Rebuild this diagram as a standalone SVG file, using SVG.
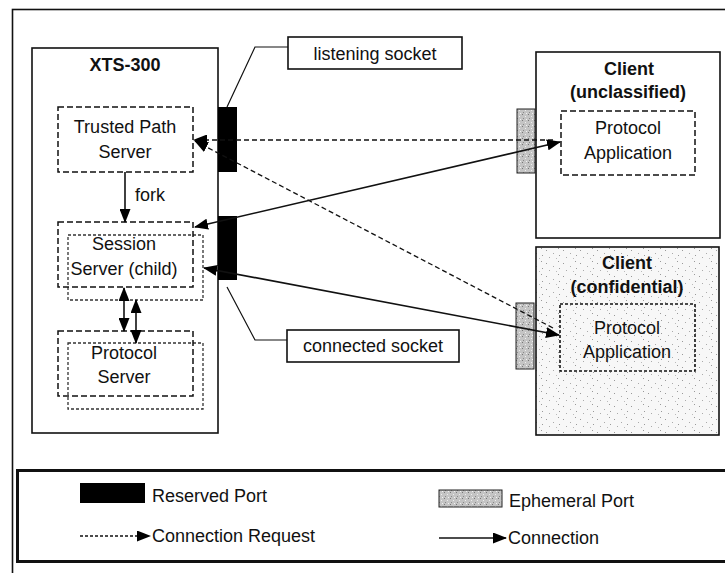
<svg xmlns="http://www.w3.org/2000/svg" width="725" height="573" viewBox="0 0 725 573">
<defs>
<style>
text{font-family:"Liberation Sans",Arial,sans-serif;font-size:18px;fill:#111}
.b{font-weight:bold}
.m{text-anchor:middle}
.box{fill:none;stroke:#111;stroke-width:1.6}
.front{fill:none;stroke:#111;stroke-width:1.5;stroke-dasharray:6 3}
.back{fill:none;stroke:#333;stroke-width:1.3;stroke-dasharray:3 2}
.dash{fill:none;stroke:#111;stroke-width:1.3;stroke-dasharray:5 3}
.solid{fill:none;stroke:#111;stroke-width:1.6}
.res{fill:#000}
.eph{fill:url(#ephPat);stroke:#222;stroke-width:1}
</style>
<marker id="ah" viewBox="0 0 14 11" refX="13" refY="5.5" markerWidth="14" markerHeight="11" markerUnits="userSpaceOnUse" orient="auto-start-reverse">
<path d="M0,0 L14,5.5 L0,11 Z" fill="#000"/>
</marker>
<pattern id="ephPat" width="6" height="6" patternUnits="userSpaceOnUse">
<rect width="6" height="6" fill="#c4c4c4"/>
<rect x="0" y="0" width="1" height="1" fill="#777"/>
<rect x="3" y="2" width="1" height="1" fill="#eee"/>
<rect x="1" y="4" width="1" height="1" fill="#888"/>
<rect x="4" y="5" width="1" height="1" fill="#f2f2f2"/>
</pattern>
<pattern id="speck" width="17" height="13" patternUnits="userSpaceOnUse">
<rect width="17" height="13" fill="#f7f7f7"/>
<rect x="2" y="3" width="1" height="1" fill="#999"/>
<rect x="9" y="6" width="1" height="1" fill="#aaa"/>
<rect x="14" y="1" width="1" height="1" fill="#999"/>
<rect x="5" y="10" width="1" height="1" fill="#aaa"/>
<rect x="12" y="11" width="1" height="1" fill="#bbb"/>
<rect x="15" y="8" width="1" height="1" fill="#999"/>
</pattern>
</defs>

<g id="frame">
<rect x="12.5" y="9.5" width="760" height="600" class="box"/>
</g>

<g id="xts300">
<rect x="32" y="48" width="186" height="385" class="box"/>
<text x="125" y="71" class="b m">XTS-300</text>
</g>

<g id="trusted-path-server">
<rect x="58" y="107" width="135" height="65" class="front"/>
<text x="125" y="133" class="m">Trusted Path</text>
<text x="125" y="158" class="m">Server</text>
</g>

<g id="session-server">
<rect x="68" y="235" width="135" height="65" class="back"/>
<rect x="58" y="222" width="135" height="65" class="front"/>
<text x="124" y="250" class="m">Session</text>
<text x="124" y="275" class="m">Server (child)</text>
</g>

<g id="protocol-server">
<rect x="68" y="343" width="135" height="66" class="back"/>
<rect x="58" y="331" width="135" height="65" class="front"/>
<text x="124" y="359" class="m">Protocol</text>
<text x="124" y="383" class="m">Server</text>
</g>

<g id="listening-port">
<rect x="218" y="107" width="19" height="65" class="res"/>
</g>
<g id="connected-port">
<rect x="218" y="216" width="19" height="64" class="res"/>
</g>

<g id="listening-socket-label">
<rect x="288" y="37" width="174" height="32" class="box" fill="#fff"/>
<text x="375" y="60" class="m">listening socket</text>
</g>

<g id="connected-socket-label">
<rect x="287" y="330" width="172" height="32" class="box"/>
<text x="373" y="352" class="m">connected socket</text>
</g>

<g id="client-unclassified">
<rect x="536" y="52" width="184" height="186" class="box"/>
<text x="629" y="75" class="b m">Client</text>
<text x="628" y="98" class="b m">(unclassified)</text>
<rect x="561" y="111" width="134" height="64" class="front"/>
<text x="628" y="134" class="m">Protocol</text>
<text x="628" y="159" class="m">Application</text>
<rect x="517" y="109" width="18" height="64" class="eph"/>
</g>

<g id="client-confidential">
<rect x="536" y="247" width="183" height="188" fill="url(#speck)" stroke="#111" stroke-width="1.6"/>
<text x="627" y="269" class="b m">Client</text>
<text x="627" y="293" class="b m">(confidential)</text>
<rect x="560" y="304" width="135" height="67" class="back" style="stroke:#111;stroke-width:1.6"/>
<text x="627" y="334" class="m">Protocol</text>
<text x="627" y="358" class="m">Application</text>
<rect x="516" y="303" width="18" height="66" class="eph"/>
</g>

<g id="connectors">
<polyline points="227,107 255,47 288,47" class="solid" style="stroke-width:1.2"/>
<polyline points="227,287 255,340 287,340" class="solid" style="stroke-width:1.2"/>
<line x1="125" y1="172" x2="125" y2="222" class="solid" marker-end="url(#ah)"/>
<text x="135" y="201">fork</text>
<line x1="124" y1="288" x2="124" y2="331" class="solid" marker-start="url(#ah)" marker-end="url(#ah)"/>
<line x1="136" y1="300" x2="136" y2="343" class="solid" marker-start="url(#ah)" marker-end="url(#ah)"/>
<line x1="553" y1="140" x2="194" y2="140" class="dash" marker-end="url(#ah)"/>
<line x1="553" y1="328" x2="195" y2="141" class="dash" marker-end="url(#ah)"/>
<line x1="195" y1="227" x2="560" y2="142" class="solid" marker-start="url(#ah)" marker-end="url(#ah)"/>
<line x1="204" y1="268" x2="559" y2="335" class="solid" marker-start="url(#ah)" marker-end="url(#ah)"/>
</g>

<g id="legend">
<rect x="17.5" y="470.5" width="760" height="91" class="box" style="stroke-width:3"/>
<rect x="80" y="483" width="65" height="20" class="res"/>
<text x="152" y="502">Reserved Port</text>
<rect x="439" y="490" width="63" height="17" class="eph"/>
<text x="509" y="507">Ephemeral Port</text>
<line x1="80" y1="536" x2="150" y2="536" class="dash" style="stroke-dasharray:3 2" marker-end="url(#ah)"/>
<text x="152" y="542">Connection Request</text>
<line x1="439" y1="538" x2="506" y2="538" class="solid" marker-end="url(#ah)"/>
<text x="508" y="544">Connection</text>
</g>
</svg>
